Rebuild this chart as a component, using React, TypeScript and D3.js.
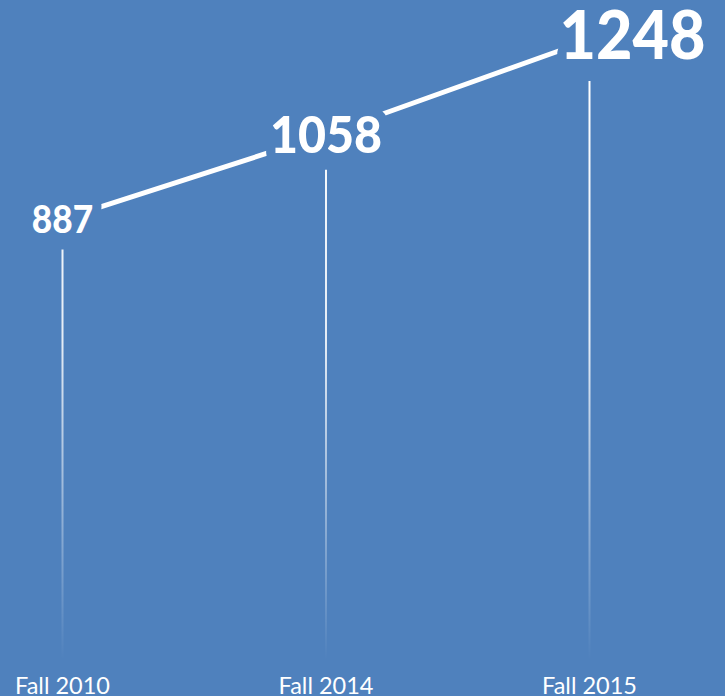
import React from "react";
import * as d3 from "d3";

const categories = ["Fall 2010", "Fall 2014", "Fall 2015"];
const values = [887, 1058, 1248];

const W = 725;
const H = 696;
const BG = "#4f81bd";
const FONT = "Lato, 'Open Sans', sans-serif";

export default function App() {
  const x = d3.scalePoint<string>().domain(categories).range([62.5, 589.5]);
  const y = d3.scaleLinear().domain([0, d3.max(values) as number]).range([659, 40]);
  const size = d3.scaleLinear().domain([d3.min(values) as number, d3.max(values) as number]).range([37.5, 67]);

  const pts = categories.map((c, i) => ({ c, v: values[i], px: x(c) as number, py: y(values[i]) }));
  const line = d3.line<any>().x((d) => d.px).y((d) => d.py);
  const lastShiftX = 43;
  const lastShiftY = -5;

  const labels = pts.map((p, i) => {
    const fs = size(p.v);
    const last = i === pts.length - 1;
    const base0 = p.py + (fs * 0.72) / 2;
    const base = base0 + (last ? lastShiftY : 0);
    const txt = String(p.v);
    const cx = p.px + (last ? lastShiftX : 0);
    return { ...p, fs, base0, base, txt, cx, len: fs * 0.545 * txt.length };
  });

  return (
    <svg width={W} height={H} style={{ position: "fixed", left: 0, top: 0, display: "block" }}>
      <defs>
        <linearGradient id="vfade" gradientUnits="userSpaceOnUse" x1={0} y1={80} x2={0} y2={660}>
          <stop offset="0" stopColor="#fff" stopOpacity={1} />
          <stop offset="0.45" stopColor="#fff" stopOpacity={0.85} />
          <stop offset="0.8" stopColor="#fff" stopOpacity={0.3} />
          <stop offset="1" stopColor="#fff" stopOpacity={0} />
        </linearGradient>
        <mask id="halo" maskUnits="userSpaceOnUse" x={0} y={0} width={W} height={H}>
          <rect x={0} y={0} width={W} height={H} fill="#fff" />
          {labels.map((l, i) => (
            <text
              key={"m" + i}
              x={l.cx}
              y={l.base}
              textAnchor="middle"
              fontFamily={FONT}
              fontWeight={900}
              fontSize={l.fs}
              fill="#000"
              stroke="#000"
              strokeWidth={20}
              strokeLinejoin="round"
              textLength={l.len}
              lengthAdjust="spacingAndGlyphs"
            >
              {l.txt}
            </text>
          ))}
        </mask>
      </defs>
      <rect x={0} y={0} width={W} height={H} fill={BG} />
      {labels.map((l, i) => (
        <line
          key={"v" + i}
          x1={l.px}
          x2={l.px}
          y1={l.base0 + 17}
          y2={y(0)}
          stroke="url(#vfade)"
          strokeWidth={2}
        />
      ))}
      <path d={line(pts) as string} fill="none" stroke="#fff" strokeWidth={5} mask="url(#halo)" />
      {labels.map((l, i) => (
        <text
          key={"t" + i}
          x={l.cx}
          y={l.base}
          textAnchor="middle"
          fontFamily={FONT}
          fontWeight={900}
          fontSize={l.fs}
          fill="#fff"
          textLength={l.len}
          lengthAdjust="spacingAndGlyphs"
        >
          {l.txt}
        </text>
      ))}
      {pts.map((p, i) => (
        <text
          key={"c" + i}
          x={p.px}
          y={694}
          textAnchor="middle"
          fontFamily={FONT}
          fontSize={23.5}
          fill="#fff"
        >
          {p.c}
        </text>
      ))}
    </svg>
  );
}
